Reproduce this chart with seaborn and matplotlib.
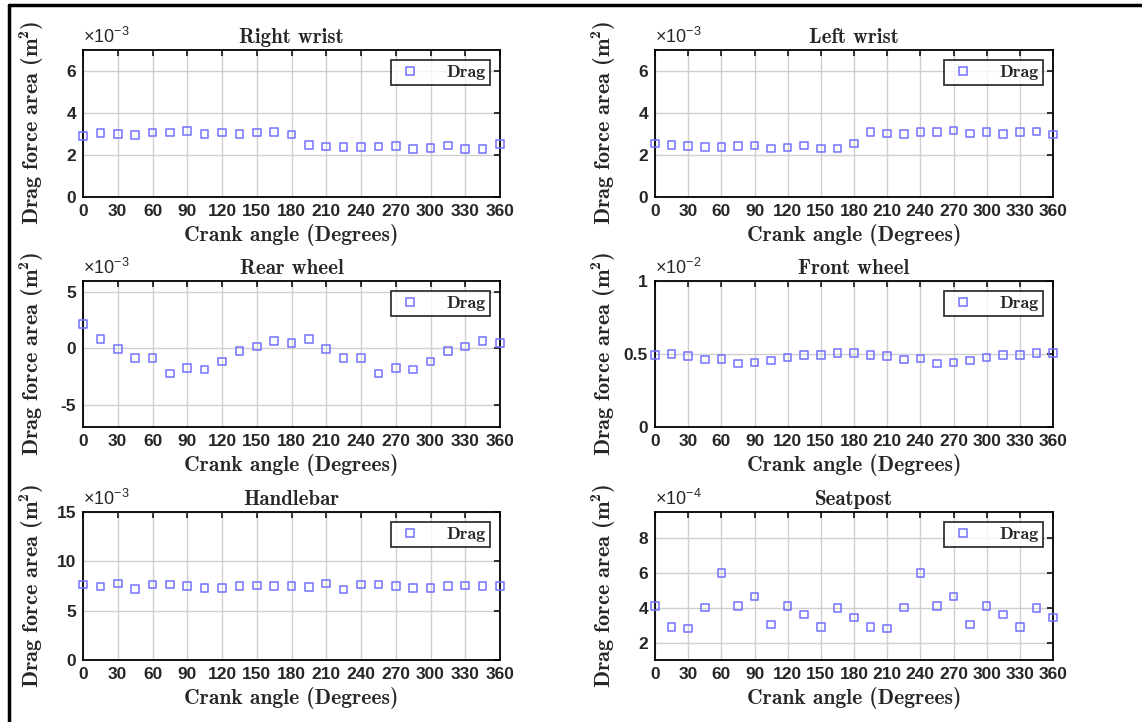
import numpy as np
import pandas as pd
import matplotlib
matplotlib.use("Agg")
import matplotlib.pyplot as plt
import seaborn as sns
from matplotlib.lines import Line2D

sns.set_style("white")
plt.rcParams['font.family'] = ['Liberation Sans', 'DejaVu Sans']
plt.rcParams['axes.unicode_minus'] = False
plt.rcParams['mathtext.fontset'] = 'custom'
plt.rcParams['mathtext.rm'] = 'Liberation Sans'
plt.rcParams['mathtext.bf'] = 'cmb10'
plt.rcParams['mathtext.it'] = 'Liberation Sans:italic'

angles = list(range(0, 361, 15))

right_wrist = [2.91, 3.04, 3.00, 2.96, 3.07, 3.07, 3.13, 2.99, 3.07, 3.00, 3.07, 3.10, 2.97,
               2.47, 2.41, 2.37, 2.37, 2.41, 2.42, 2.29, 2.33, 2.45, 2.29, 2.29, 2.52]
left_wrist = [2.55, 2.49, 2.43, 2.39, 2.39, 2.43, 2.46, 2.31, 2.35, 2.46, 2.31, 2.31, 2.54,
              3.09, 3.02, 2.99, 3.09, 3.09, 3.17, 3.02, 3.09, 3.00, 3.09, 3.12, 2.98]
rear_wheel = [2.18, 0.86, -0.03, -0.86, -0.86, -2.24, -1.74, -1.89, -1.18, -0.24, 0.18, 0.68, 0.47,
              0.83, -0.03, -0.86, -0.86, -2.24, -1.74, -1.89, -1.18, -0.24, 0.18, 0.68, 0.47]
front_wheel = [0.493, 0.498, 0.486, 0.461, 0.466, 0.434, 0.443, 0.455, 0.475, 0.495, 0.495, 0.505, 0.507,
               0.495, 0.486, 0.461, 0.468, 0.434, 0.443, 0.455, 0.475, 0.495, 0.495, 0.505, 0.505]
handlebar = [7.64, 7.44, 7.74, 7.17, 7.67, 7.64, 7.51, 7.31, 7.27, 7.51, 7.54, 7.51, 7.51,
             7.41, 7.74, 7.14, 7.67, 7.64, 7.51, 7.31, 7.27, 7.51, 7.54, 7.51, 7.51]
seatpost = [4.10, 2.90, 2.80, 4.02, 6.00, 4.10, 4.65, 3.05, 4.11, 3.62, 2.91, 3.98, 3.43,
            2.90, 2.80, 4.02, 6.00, 4.10, 4.65, 3.05, 4.11, 3.62, 2.91, 3.98, 3.43]

titles = ["Right wrist", "Left wrist", "Rear wheel", "Front wheel", "Handlebar", "Seatpost"]
series = [right_wrist, left_wrist, rear_wheel, front_wheel, handlebar, seatpost]
exponents = ["-3", "-3", "-3", "-2", "-3", "-4"]
ylims = [(0, 7), (0, 7), (-7, 6), (0, 1), (0, 15), (1, 9.5)]
yticks = [[0, 2, 4, 6], [0, 2, 4, 6], [-5, 0, 5], [0, 0.5, 1], [0, 5, 10, 15], [2, 4, 6, 8]]
ytick_labels = [["0", "2", "4", "6"], ["0", "2", "4", "6"], ["-5", "0", "5"],
                ["0", "0.5", "1"], ["0", "5", "10", "15"], ["2", "4", "6", "8"]]
xticks = list(range(0, 361, 30))

W, H = 1142, 722
fig = plt.figure(figsize=(W / 100, H / 100), dpi=100)

cols = [(83, 500), (655, 1053)]
rows = [(50, 197), (281, 427), (512, 660)]
ylabel_x = [46, 618]

marker_color = '#7070ff'
serif = 'cmb10'

for i in range(6):
    r, c = divmod(i, 2)
    x0, x1 = cols[c]
    y0, y1 = rows[r]
    w, h = x1 - x0, y1 - y0
    ax = fig.add_axes([x0 / W, 1 - y1 / H, w / W, h / H])
    df = pd.DataFrame({"angle": angles, "value": series[i]})
    sns.scatterplot(data=df, x="angle", y="value", ax=ax, marker='s', s=30,
                    facecolor='none', edgecolor=marker_color, linewidth=1.1,
                    clip_on=False, zorder=5, legend=False)
    ax.set_xlim(0, 360)
    ax.set_ylim(*ylims[i])
    ax.set_xticks(xticks)
    ax.set_xticklabels([str(t) for t in xticks])
    ax.set_yticks(yticks[i])
    ax.set_yticklabels(ytick_labels[i])
    ax.grid(True, color='#cfcfcf', linewidth=1.0)
    ax.set_axisbelow(True)
    ax.tick_params(direction='in', top=True, right=True, length=4, width=1.1,
                   labelsize=12.5, pad=5, color='black')
    for lab in ax.get_xticklabels() + ax.get_yticklabels():
        lab.set_fontweight('bold')
    for sp in ax.spines.values():
        sp.set_color('black')
        sp.set_linewidth(1.3)
    ax.set_title(titles[i], fontfamily=serif, fontsize=15, pad=5)
    ax.set_xlabel("Crank angle (Degrees)", fontfamily=serif, fontsize=15.5)
    ax.xaxis.set_label_coords(0.5, -27 / h)
    ax.set_ylabel(r"Drag force area (m$^{\mathbf{2}}$)", fontfamily=serif, fontsize=16)
    ax.yaxis.set_label_coords((ylabel_x[c] - x0) / w, 0.5)
    ax.text(0.0, 1.02, r"$\times$10$^{" + exponents[i] + "}$", transform=ax.transAxes,
            fontsize=13, ha='left', va='bottom')
    handle = Line2D([], [], linestyle='none', marker='s', markersize=5.5,
                    markerfacecolor='none', markeredgecolor=marker_color, markeredgewidth=1.1)
    leg = ax.legend([handle], ["Drag"], loc='upper right', fancybox=False, frameon=True,
                    prop={'family': serif, 'size': 13}, handletextpad=1.2, handlelength=1.6,
                    borderaxespad=0.55, borderpad=0.25)
    leg.get_frame().set_edgecolor('black')
    leg.get_frame().set_linewidth(1.3)

# outer border (top and left)
fig.add_artist(Line2D([9 / W, 9 / W], [0, 1 - 5 / H], color='black', linewidth=2.5,
                      transform=fig.transFigure))
fig.add_artist(Line2D([9 / W, 1], [1 - 5 / H, 1 - 5 / H], color='black', linewidth=2.5,
                      transform=fig.transFigure))

fig.savefig("out.png", dpi=100)
